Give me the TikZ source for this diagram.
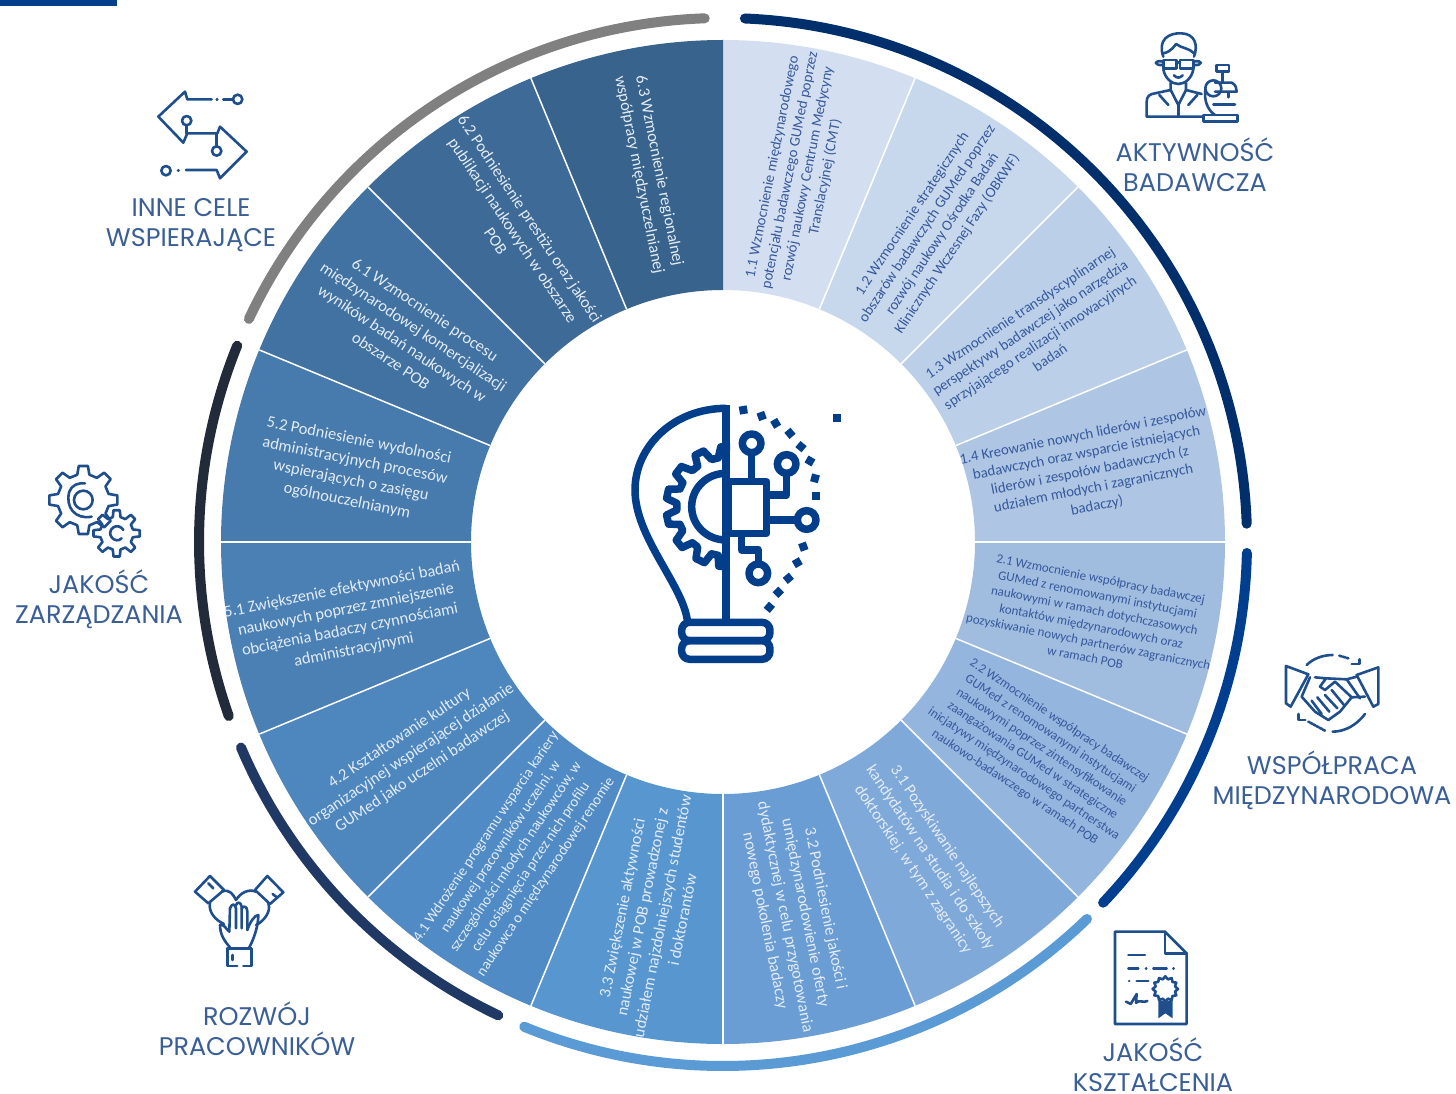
\documentclass[tikz,border=0pt]{standalone}
\usepackage{fontspec}
\setmainfont{Carlito}
\newfontfamily\capfont{Poppins}
\definecolor{iconblue}{HTML}{1F4E8C}
\definecolor{bulbblue}{HTML}{023E8A}
\definecolor{labelblue}{HTML}{3A5F96}
\definecolor{darktext}{HTML}{36589C}
\definecolor{lighttext}{HTML}{E3EBF5}
\definecolor{bandone}{HTML}{002F6C}
\definecolor{bandtwo}{HTML}{003F8F}
\definecolor{bandthree}{HTML}{5B9BD5}
\definecolor{bandfour}{HTML}{1F3864}
\definecolor{bandfive}{HTML}{222B3A}
\definecolor{bandsix}{HTML}{808080}
\tikzset{
  goaldark/.style={text=darktext,align=center,inner sep=0pt},
  goallight/.style={text=lighttext,align=center,inner sep=0pt},
  fbig/.style={font=\fontsize{16.4}{20.5}\selectfont},
  fmid/.style={font=\fontsize{14.8}{18}\selectfont},
  fsmall/.style={font=\fontsize{13}{16}\selectfont},
  caplabel/.style={text=labelblue,align=center,inner sep=0pt,font=\capfont\fontsize{25.5}{30}\selectfont},
  band/.style={line width=10pt,line cap=round},
  iconline/.style={draw=iconblue,line width=2.6pt,line join=round,line cap=round},
  bulbline/.style={draw=bulbblue,line width=7.5pt,line join=round},
  iconat/.style 2 args={shift={(#1,#2)},scale=0.3333}
}
\newcommand{\cogwheel}[5]{% x, y, root, tip, teeth
  \begin{scope}[shift={(#1,#2)}]
    \pgfmathsetmacro\cogstep{360/#5}
    \draw[iconline] (-0.3*\cogstep:#3)
      \foreach \k in {1,...,#5} {
        -- ({(\k-1)*\cogstep-0.17*\cogstep}:#4) -- ({(\k-1)*\cogstep+0.17*\cogstep}:#4)
        -- ({(\k-1)*\cogstep+0.3*\cogstep}:#3) -- ({\k*\cogstep-0.3*\cogstep}:#3)
      } -- cycle;
  \end{scope}
}
\begin{document}
\begin{tikzpicture}[x=1pt,y=-1pt]
  \useasboundingbox (0,0) rectangle (1456,1094);
  \fill[bulbblue] (0,0) rectangle (117,6);

  % ring
  \begin{scope}[shift={(723,542)},y=1pt]
    \foreach \shade [count=\i from 0] in {D3DFF0,C7D7EC,BBD0E8,AEC6E4,A0BDE0,93B5DE,7FA9D9,6A9DD3,5896D0,508BC5,4E87BE,4A80B3,477BAD,4172A2,3D6A96,38638C} {
      \definecolor{wedgecol}{HTML}{\shade}
      \pgfmathsetmacro\a{90-22.5*\i}
      \pgfmathsetmacro\b{\a-22.5}
      \fill[wedgecol] (\a:252) -- (\a:502) arc[start angle=\a,end angle=\b,radius=502] -- (\b:252) arc[start angle=\b,end angle=\a,radius=252] -- cycle;
      \ifnum\i>0 \draw[white,line width=1.5pt] (\a:252) -- (\a:502); \fi
    }
    \draw[band,color=bandone] (87.6:524) arc[start angle=87.6,end angle=2,radius=524];
    \draw[band,color=bandtwo] (-1.2:524) arc[start angle=-1.2,end angle=-43.5,radius=524];
    \draw[band,color=bandthree] (-46:524) arc[start angle=-46,end angle=-112.3,radius=524];
    \draw[band,color=bandfour] (244.6:524) arc[start angle=244.6,end angle=203.1,radius=524];
    \draw[band,color=bandfive] (199.4:524) arc[start angle=199.4,end angle=158,radius=524];
    \draw[band,color=bandsix] (154.8:524) arc[start angle=154.8,end angle=92,radius=524];
  \end{scope}

  % goals
  \node[goaldark,fmid,rotate=78.75] (g11) at (799,172) {1.1 Wzmocnienie międzynarodowego\\potencjału badawczego GUMed poprzez\\rozwój naukowy Centrum Medycyny\\Translacyjnej (CMT)};
  \node[goaldark,fmid,rotate=56.25] (g12) at (935,229) {1.2 Wzmocnienie strategicznych\\obszarów badawczych GUMed poprzez\\rozwój naukowy Ośrodka Badań\\Klinicznych Wczesnej Fazy (OBKWF)};
  \node[goaldark,fmid,rotate=33.75] (g13) at (1035,335) {1.3 Wzmocnienie transdyscyplinarnej\\perspektywy badawczej jako narzędzia\\sprzyjającego realizacji innowacyjnych\\badań};
  \node[goaldark,fmid,rotate=11.25] (g14) at (1090,471) {1.4 Kreowanie nowych liderów i zespołów\\badawczych oraz wsparcie istniejących\\liderów i zespołów badawczych (z\\udziałem młodych i zagranicznych\\badaczy)};
  \node[goaldark,fsmall,rotate=-11.25] (g21) at (1093,618) {2.1 Wzmocnienie współpracy badawczej\\GUMed z renomowanymi instytucjami\\naukowymi w ramach dotychczasowych\\kontaktów międzynarodowych oraz\\pozyskiwanie nowych partnerów zagranicznych\\w ramach POB};
  \node[goaldark,fsmall,rotate=-33.75] (g22) at (1037,754) {2.2 Wzmocnienie współpracy badawczej\\GUMed z renomowanymi instytucjami\\naukowymi poprzez zintensyfikowanie\\zaangażowania GUMed w strategiczne\\inicjatywy międzynarodowego partnerstwa\\naukowo-badawczego w ramach POB};
  \node[goallight,fbig,rotate=-56.25] (g31) at (930,858) {3.1 Pozyskiwanie najlepszych\\kandydatów na studia i do szkoły\\doktorskiej, w tym z zagranicy};
  \node[goallight,fbig,rotate=-78.75] (g32) at (795,915) {3.2 Podniesienie jakości i\\umiędzynarodowienie oferty\\dydaktycznej w celu przygotowania\\nowego pokolenia badaczy};
  \node[goallight,fbig,rotate=78.75] (g33) at (652,914) {3.3 Zwiększenie aktywności\\naukowej w POB prowadzonej z\\udziałem najzdolniejszych studentów\\i doktorantów};
  \node[goallight,fmid,rotate=56.25] (g41) at (516,857) {4.1 Wdrożenie programu wsparcia kariery\\naukowej pracowników uczelni, w\\szczególności młodych naukowców, w\\celu osiągnięcia przez nich profilu\\naukowca o międzynarodowej renomie};
  \node[goallight,fbig,rotate=33.75] (g42) at (411,755) {4.2 Kształtowanie kultury\\organizacyjnej wspierającej działanie\\GUMed jako uczelni badawczej};
  \node[goallight,fbig,rotate=11.25] (g51) at (348,620) {5.1 Zwiększenie efektywności badań\\naukowych poprzez zmniejszenie\\obciążenia badaczy czynnościami\\administracyjnymi};
  \node[goallight,fbig,rotate=-11.25] (g52) at (353,471) {5.2 Podniesienie wydolności\\administracyjnych procesów\\wspierających o zasięgu\\ogólnouczelnianym};
  \node[goallight,fbig,rotate=-33.75] (g61) at (408,335) {6.1 Wzmocnienie procesu\\międzynarodowej komercjalizacji\\wyników badań naukowych w\\obszarze POB};
  \node[goallight,fbig,rotate=-56.25] (g62) at (513,230) {6.2 Podniesienie prestiżu oraz jakości\\publikacji naukowych w obszarze\\POB};
  \node[goallight,fbig,rotate=-78.75] (g63) at (649,173) {6.3 Wzmocnienie regionalnej\\współpracy międzyuczelnianej};

  % labels
  \node[caplabel] (aktywnosc) at (1195,165) {AKTYWNOŚĆ\\BADAWCZA};
  \node[caplabel] (wspolpraca) at (1332,780) {WSPÓŁPRACA\\MIĘDZYNARODOWA};
  \node[caplabel] (ksztalcenie) at (1153,1065) {JAKOŚĆ\\KSZTAŁCENIA};
  \node[caplabel] (rozwoj) at (257,1029) {ROZWÓJ\\PRACOWNIKÓW};
  \node[caplabel] (zarzadzanie) at (99,599) {JAKOŚĆ\\ZARZĄDZANIA};
  \node[caplabel] (inne) at (191,225) {INNE CELE\\WSPIERAJĄCE};

  % bulb
  \begin{scope}[iconat={610}{390}]
    \draw[bulbline] (348,55) .. controls (190,55) and (75,170) .. (75,300) .. controls (75,440) and (215,580) .. (232,690);
    \draw[bulbline] (348,45) -- (348,697);
    \draw[bulbline,rounded corners=8pt] (215,697) rectangle (480,752);
    \draw[bulbline,rounded corners=8pt] (215,752) rectangle (480,808);
    \draw[bulbline] (348,250) .. controls (290,250) and (245,295) .. (245,350) .. controls (245,405) and (290,450) .. (348,450);
    \begin{scope}[shift={(348,350)}]
      \draw[bulbline] (90:180) -- (97:180) \foreach \t in {103,129,155,180,205,231,257} {
        -- (\t-4:148) -- (\t+4:148) -- (\t+8:180) -- (\t+17:180)
      };
    \end{scope}
    \draw[bulbline] (355,275) rectangle (470,430);
    \draw[bulbline] (425,270) -- (425,190);
    \draw[bulbline] (425,160) circle[radius=28];
    \draw[bulbline] (470,315) -- (530,315) -- (530,250);
    \draw[bulbline] (530,222) circle[radius=28];
    \draw[bulbline] (470,390) -- (562,390);
    \draw[bulbline] (590,390) circle[radius=28];
    \draw[bulbline] (395,430) -- (395,480) -- (445,480) -- (445,522);
    \draw[bulbline] (445,550) circle[radius=28];
    \foreach \qx/\qy/\qt in {400/60/10,455/78/20,497/100/30,540/130/40,573/170/50,600/213/60,615/265/75,618/318/90,580/470/110,562/518/120,535/565/130,505/607/135,478/652/140,682/85/0} {
      \fill[bulbblue,shift={(\qx,\qy)},rotate=\qt] (-12,-12) rectangle (12,12);
    }
  \end{scope}

  % scientist
  \begin{scope}[iconat={1100}{20}]
    \draw[iconline] (190,110) .. controls (172,60) and (205,38) .. (245,40) .. controls (285,42) and (295,75) .. (282,110);
    \draw[iconline] (190,100) .. controls (215,95) and (225,75) .. (228,72) .. controls (245,85) and (270,85) .. (282,100);
    \draw[iconline] (190,148) .. controls (195,175) and (215,192) .. (235,192) .. controls (255,192) and (275,175) .. (280,148);
    \draw[iconline] (190,120) rectangle (230,146);
    \draw[iconline] (240,120) rectangle (280,146);
    \draw[iconline] (230,128) -- (240,128);
    \draw[iconline] (190,125) .. controls (160,118) and (160,138) .. (190,135);
    \draw[iconline] (280,125) .. controls (310,118) and (310,138) .. (280,135);
    \draw[iconline] (222,166) .. controls (230,175) and (240,175) .. (248,166);
    \draw[iconline] (305,290) -- (140,290) -- (140,245) .. controls (140,228) and (150,222) .. (165,220) -- (212,210) -- (212,188);
    \draw[iconline] (258,188) -- (258,210) -- (305,222);
    \draw[iconline] (212,210) -- (235,255) -- (258,210);
    \draw[iconline] (235,255) -- (235,290);
    \draw[iconline] (178,225) -- (205,255);
    \draw[iconline] (292,225) -- (265,255);
    \draw[iconline] (310,285) rectangle (412,305);
    \draw[iconline] (350,135) rectangle (387,155);
    \draw[iconline] (368,155) -- (368,188);
    \draw[iconline] (340,205) circle[radius=24];
    \draw[iconline] (345,188) -- (395,188) .. controls (408,195) and (410,205) .. (410,215) -- (345,215);
    \draw[iconline] (316,210) .. controls (312,240) and (322,270) .. (345,285);
    \draw[iconline] (340,253) -- (405,253);
    \draw[iconline] (385,220) -- (385,232);
  \end{scope}

  % handshake
  \begin{scope}[iconat={1200}{640}]
    \draw[iconline] (258,78) -- (325,103) -- (272,200) -- (258,190) -- cycle;
    \draw[iconline] (535,82) -- (470,105) -- (520,200) -- (535,192) -- cycle;
    \draw[iconline] (330,112) -- (305,170) -- (345,215) -- (385,240) -- (420,215) -- (455,172) -- (405,125) -- (375,150) -- (360,140) -- (378,115) -- (345,112);
    \draw[iconline] (378,115) -- (440,118) -- (470,110);
    \draw[iconline] (455,172) -- (495,170);
    \draw[iconline] (440,118) -- (480,175);
    \draw[iconline] (335,182) -- (365,222);
    \draw[iconline] (352,172) -- (388,215);
    \draw[iconline] (375,165) -- (412,205);
    \draw[iconline] (395,150) -- (432,195);
    \draw[iconline] (320,75) .. controls (340,55) and (370,45) .. (398,45);
    \draw[iconline,densely dotted] (418,47) -- (445,55);
    \draw[iconline] (455,72) -- (478,72) -- (478,58);
    \draw[iconline] (495,222) .. controls (470,255) and (435,275) .. (398,275);
    \draw[iconline,densely dotted] (375,272) -- (325,245);
    \draw[iconline] (316,240) -- (295,240) -- (295,222);
  \end{scope}

  % certificate
  \begin{scope}[iconat={1060}{920}]
    \draw[iconline] (165,35) -- (315,35) -- (380,100) -- (380,312) -- (165,312) -- cycle;
    \draw[iconline] (315,35) -- (315,100) -- (380,100);
    \draw[iconline] (205,105) -- (255,105);
    \draw[iconline] (205,145) -- (235,145);
    \draw[iconline] (258,145) -- (259,145);
    \draw[iconline] (280,145) -- (320,145);
    \draw[iconline] (340,145) -- (341,145);
    \draw[iconline] (207,183) -- (208,183);
    \draw[iconline] (230,183) -- (265,183);
    \begin{scope}[shift={(316,207)}]
      \draw[iconline] (0:38) \foreach \t in {30,60,...,330} { -- (\t-15:30) -- (\t:38) } -- (345:30) -- cycle;
    \end{scope}
    \fill[iconblue] (295,238) -- (295,295) -- (316,280) -- (338,295) -- (338,238) -- (316,246) -- cycle;
    \draw[iconline] (198,245) -- (212,252) -- (230,222) -- (228,248) .. controls (240,238) and (250,250) .. (262,243);
  \end{scope}

  % hands
  \begin{scope}[iconat={150}{860}]
    \draw[iconline] (135,95) -- (180,48) -- (222,90) -- (175,130) -- cycle;
    \draw[iconline] (315,90) -- (352,48) -- (400,97) -- (360,132) -- cycle;
    \draw[iconline] (232,265) -- (305,265) -- (305,318) -- (280,318);
    \draw[iconline] (262,318) -- (232,318) -- (232,265);
    \draw[iconline] (175,70) -- (190,85);
    \draw[iconline] (368,102) -- (378,110);
    \draw[iconline] (248,285) -- (248,300);
    \draw[iconline] (215,95) .. controls (240,85) and (250,105) .. (258,120) .. controls (270,100) and (295,85) .. (318,95);
    \draw[iconline] (180,130) .. controls (175,155) and (195,180) .. (222,192);
    \draw[iconline] (355,130) .. controls (365,155) and (340,185) .. (318,195);
    \draw[iconline] (240,262) .. controls (225,245) and (210,225) .. (210,195) .. controls (222,190) and (230,210) .. (238,215) -- (240,145) .. controls (245,130) and (255,130) .. (258,145) -- (258,205);
    \draw[iconline] (258,135) .. controls (262,125) and (272,125) .. (275,140) -- (275,205);
    \draw[iconline] (275,145) .. controls (282,135) and (292,140) .. (292,155) -- (292,210);
    \draw[iconline] (292,210) .. controls (300,185) and (315,165) .. (325,165) .. controls (325,200) and (310,240) .. (298,262);
  \end{scope}

  % gears
  \begin{scope}[iconat={0}{450}]
    \cogwheel{250}{150}{78}{103}{8}
    \draw[iconline] (250,150) circle[radius=28];
    \draw[iconline] (275,200) .. controls (225,210) and (195,170) .. (208,125) .. controls (215,105) and (235,98) .. (255,100);
    \cogwheel{350}{250}{50}{70}{8}
    \draw[iconline] (365,265) .. controls (345,285) and (315,250) .. (340,232) .. controls (350,225) and (365,230) .. (370,240);
  \end{scope}

  % arrows
  \begin{scope}[iconat={100}{70}]
    \draw[iconline] (335,88) -- (262,88) -- (255,65) -- (175,140) -- (250,218) -- (262,190) -- (352,190) -- (360,170) -- (440,245) -- (360,325) -- (350,300) -- (258,300);
    \draw[iconline] (260,152) circle[radius=14];
    \draw[iconline] (260,166) -- (260,190);
    \draw[iconline] (350,243) circle[radius=14];
    \draw[iconline] (350,190) -- (350,229);
    \draw[iconline] (350,88) -- (352,88);
    \draw[iconline] (370,88) -- (398,88);
    \draw[iconline] (413,88) circle[radius=14];
    \draw[iconline] (198,302) circle[radius=14];
    \draw[iconline] (234,302) -- (236,302);
  \end{scope}
\end{tikzpicture}
\end{document}
